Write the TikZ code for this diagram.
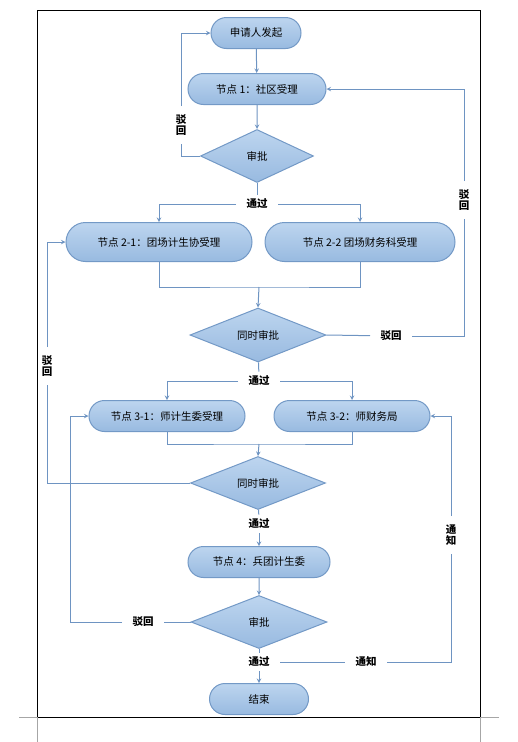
\documentclass[tikz,border=0pt]{standalone}
\usepackage{fontspec}
\newfontfamily\cjk{Noto Sans CJK SC}
\usetikzlibrary{shapes.geometric,shapes.misc,arrows}
\definecolor{boxtop}{HTML}{BDD5EF}
\definecolor{boxbot}{HTML}{98BAE0}
\definecolor{boxline}{HTML}{7399C6}
\definecolor{flow}{HTML}{6E94C2}

\begin{document}
\begin{tikzpicture}[x=1pt, y=-1pt, ->, >=stealth, draw=flow, line width=1pt, font=\cjk\fontsize{10.5}{12}\selectfont]
	\tikzstyle{term}=[rounded rectangle, draw=boxline, top color=boxtop, bottom color=boxbot, minimum height=31pt, inner sep=0pt]
	\tikzstyle{check}=[diamond, draw=boxline, top color=boxtop, bottom color=boxbot, minimum height=53pt, inner sep=0pt]
	\tikzstyle{tag}=[inner xsep=10pt, inner ysep=4pt, font=\cjk\bfseries\fontsize{10.5}{12}\selectfont]
	\tikzstyle{vtag}=[inner xsep=2pt, inner ysep=8pt, align=center, font=\cjk\bfseries\fontsize{10.5}{11}\selectfont]

	\useasboundingbox (0,0) rectangle (518,742);
	\draw[-, black] (37,10) rectangle (480,717);
	\draw[-, black!35] (19,717) -- (37,717) -- (37,742);
	\draw[-, black!35] (499,717) -- (480,717) -- (480,742);

	\node[term, minimum width=90pt] (start) at (256,33) {申请人发起};
	\node[term, minimum width=138pt] (n1) at (257,89) {节点 1：社区受理};
	\node[check, minimum width=113pt] (d1) at (257,156) {审批};
	\node[vtag] (rej1) at (181,125) {驳\\回};
	\node[tag] (pass1) at (257,204) {通过};

	\node[term, minimum width=186pt, minimum height=39pt] (n21) at (159,242) {节点 2-1：团场计生协受理};
	\node[term, minimum width=190pt, minimum height=39pt] (n22) at (360,242) {节点 2-2 团场财务科受理};
	\coordinate (m2) at (259,287);
	\node[check, minimum width=136pt, minimum height=54pt] (d2) at (258,335) {同时审批};
	\node[tag] (rej2) at (391,336) {驳回};
	\node[vtag] (rej2v) at (464,200) {驳\\回};
	\node[tag] (pass2) at (259,381) {通过};

	\node[term, minimum width=156pt] (n31) at (167,416) {节点 3-1：师计生委受理};
	\node[term, minimum width=156pt] (n32) at (352,416) {节点 3-2：师财务局};
	\coordinate (m3) at (259,444);
	\node[check, minimum width=135pt] (d3) at (258,483) {同时审批};
	\node[vtag] (rej3) at (47,366) {驳\\回};
	\node[tag] (pass3) at (259,524) {通过};

	\node[term, minimum width=142pt] (n4) at (259,562) {节点 4：兵团计生委};
	\node[check, minimum width=136pt] (d4) at (259,622) {审批};
	\node[tag] (rej4) at (143,622) {驳回};
	\coordinate (back4) at (70,416);
	\node[tag] (pass4) at (259,662) {通过};
	\node[tag] (note) at (366,662) {通知};
	\node[vtag] (notev) at (451,535) {通\\知};
	\node[term, minimum width=99pt] (end) at (259,699) {结束};

	% first level
	\draw (start) -- (n1);
	\draw (n1) -- (d1);
	\draw[-] (d1.west) -| (rej1);
	\draw (rej1) |- (start.west);
	\draw[-] (d1) -- (pass1);
	\draw (pass1) -| (n21.north);
	\draw (pass1) -| (n22.north);

	% second level
	\draw[-] (n21.south) |- (m2) -| (n22.south);
	\draw (m2) -- (d2.north);
	\draw[-] (d2.east) -- (rej2);
	\draw[-] (rej2) -| (rej2v);
	\draw (rej2v) |- (n1.east);
	\draw[-] (d2) -- (pass2);
	\draw (pass2) -| (n31.north);
	\draw (pass2) -| (n32.north);

	% third level
	\draw[-] (n31.south) |- (m3) -| (n32.south);
	\draw (m3) -- (d3.north);
	\draw[-] (d3.west) -| (rej3);
	\draw (rej3) |- (n21.west);
	\draw[-] (d3) -- (pass3);
	\draw (pass3) -- (n4);

	% last level
	\draw (n4) -- (d4);
	\draw[-] (d4.west) -- (rej4);
	\draw (rej4) -| (back4) -- (n31.west);
	\draw[-] (d4) -- (pass4);
	\draw (pass4) -- (end);
	\draw[-] (pass4) -- (note);
	\draw[-] (note) -| (notev);
	\draw (notev) |- (n32.east);
\end{tikzpicture}
\end{document}
